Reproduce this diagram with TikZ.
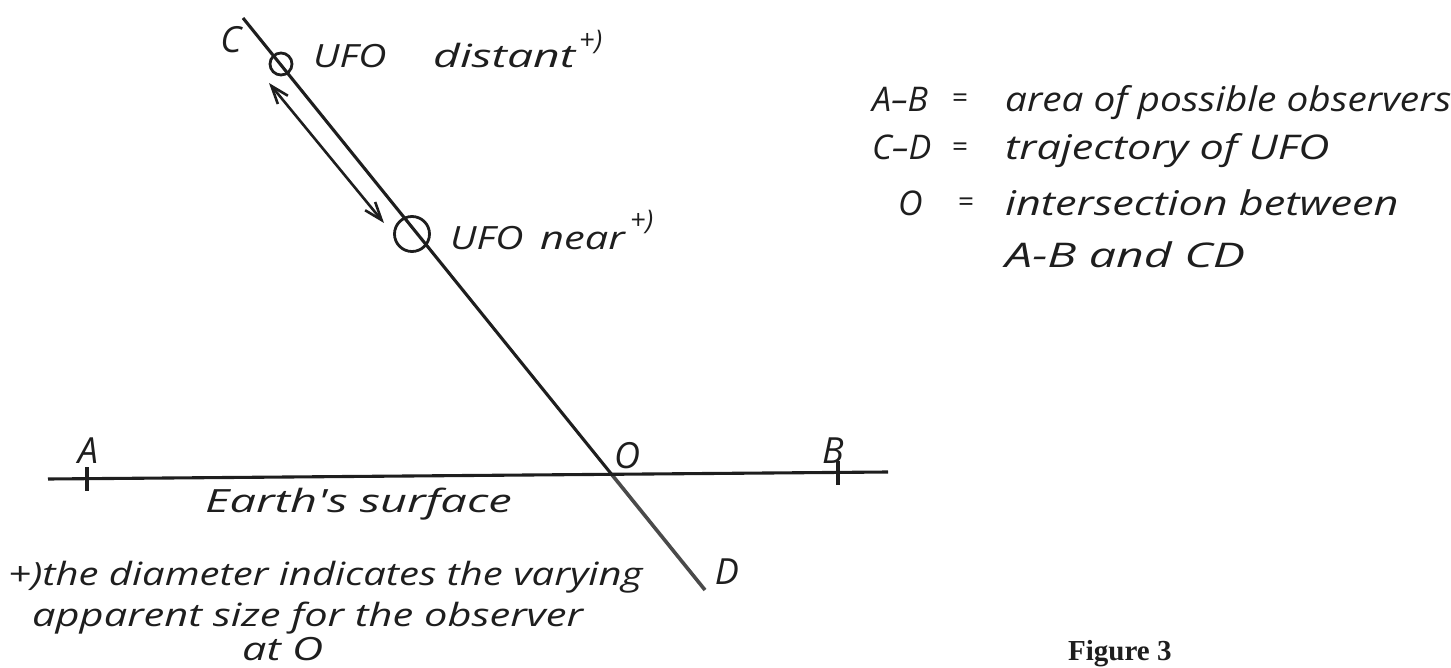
\documentclass[tikz,border=0pt]{standalone}
\usepackage{fontspec}
\setmainfont{Liberation Serif}
\newfontfamily\hand{Open Sans}[ItalicFont={Open Sans Italic}]
\usetikzlibrary{arrows.meta}
\definecolor{ink}{HTML}{1E1E1E}
\definecolor{inkgray}{HTML}{4A4A4A}
\newcommand\hx[2]{\scalebox{#1}[1]{#2}}
\tikzset{
  ln/.style={draw=ink,line width=3.1pt},
  lbl/.style={inner sep=0pt,text=ink,font=\hand\itshape\fontsize{32}{38}\selectfont},
  big/.style={inner sep=0pt,text=ink,font=\hand\itshape\fontsize{36}{42}\selectfont},
  sup/.style={inner sep=0pt,text=ink,font=\hand\itshape\fontsize{27}{30}\selectfont,anchor=base west},
  lgd/.style={inner sep=0pt,text=ink,font=\hand\itshape\fontsize{34}{40}\selectfont,anchor=base west},
  eqs/.style={inner sep=0pt,text=ink,font=\hand\fontsize{28}{30}\selectfont,anchor=base west},
  ufo/.style={circle,draw=ink,line width=2.8pt,inner sep=0pt},
}
\begin{document}
\begin{tikzpicture}[x=1pt,y=-1pt]
\useasboundingbox (0,0) rectangle (1451,668);
% trajectory
\coordinate (Ctop) at (243,18);
\coordinate (Dend) at (705,590);
\coordinate (L) at (48,479);
\coordinate (R) at (888,472);
\coordinate (O) at (intersection of Ctop--Dend and L--R);
\draw[ln] (Ctop) -- (O);
\draw[ln,draw=inkgray,line width=3.6pt] (O) -- (Dend);
\node[ufo,minimum size=22pt] (ufo1) at (281,64) {};
\node[ufo,minimum size=35pt] (ufo2) at (412,234) {};
% double arrow
\coordinate (a1) at (269,83);
\coordinate (a2) at (384,223);
\draw[ln,line width=2.6pt,{Straight Barb[length=18pt,width=13pt]}-{Straight Barb[length=18pt,width=13pt]}] (a1) -- (a2);
% earth surface
\draw[ln] (L) -- (R);
\coordinate (tA1) at (87,467); \coordinate (tA2) at (87,491);
\coordinate (tB1) at (838,461); \coordinate (tB2) at (838,485);
\draw[ln] (tA1) -- (tA2);
\draw[ln] (tB1) -- (tB2);
% labels
\node[big] (lC) at (231,40) {C};
\node[lbl,anchor=base west] (ld1) at (313,68) {\hx{1.22}{UFO}};
\node[lbl,anchor=base west] (ld2) at (433,68) {\hx{1.45}{distant}};
\node[sup] (ld3) at (579,50) {+)};
\node[lbl,anchor=base west] (ln1) at (450,250) {\hx{1.22}{UFO}};
\node[lbl,anchor=base west] (ln2) at (540,250) {\hx{1.3}{near}};
\node[sup] (ln3) at (630,230) {+)};
\node[big] (lA) at (88,451) {A};
\node[big] (lO) at (627,456) {O};
\node[big] (lB) at (833,451) {B};
\node[big] (lD) at (727,572) {D};
\node[lbl,anchor=base west] (les) at (205,512) {\hx{1.47}{Earth's surface}};
\node[lbl,anchor=base west] (f1) at (8,585) {\hx{1.25}{+)the diameter indicates the varying}};
\node[lbl,anchor=base west] (f2) at (32,626) {\hx{1.3}{apparent size for the observer}};
\node[lbl,anchor=base west] (f3) at (242,660) {\hx{1.35}{at O}};
% legend
\node[lgd] (k1) at (872,112) {A–B};
\node[eqs] (e1) at (952,108) {=};
\node[lgd] (v1) at (1005,112) {\hx{1.14}{area of possible observers}};
\node[lgd] (k2) at (872,160) {C–D};
\node[eqs] (e2) at (952,157) {=};
\node[lgd] (v2) at (1005,160) {\hx{1.27}{trajectory of UFO}};
\node[lgd] (k3) at (898,216) {O};
\node[eqs] (e3) at (958,212) {=};
\node[lgd] (v3) at (1005,216) {\hx{1.27}{intersection between}};
\node[lgd] (v4) at (1005,268) {\hx{1.42}{A-B and CD}};
\node[inner sep=0pt,anchor=base west,font=\bfseries\fontsize{29}{34}\selectfont,text=ink] (fig) at (1068,660) {Figure 3};
\end{tikzpicture}
\end{document}
